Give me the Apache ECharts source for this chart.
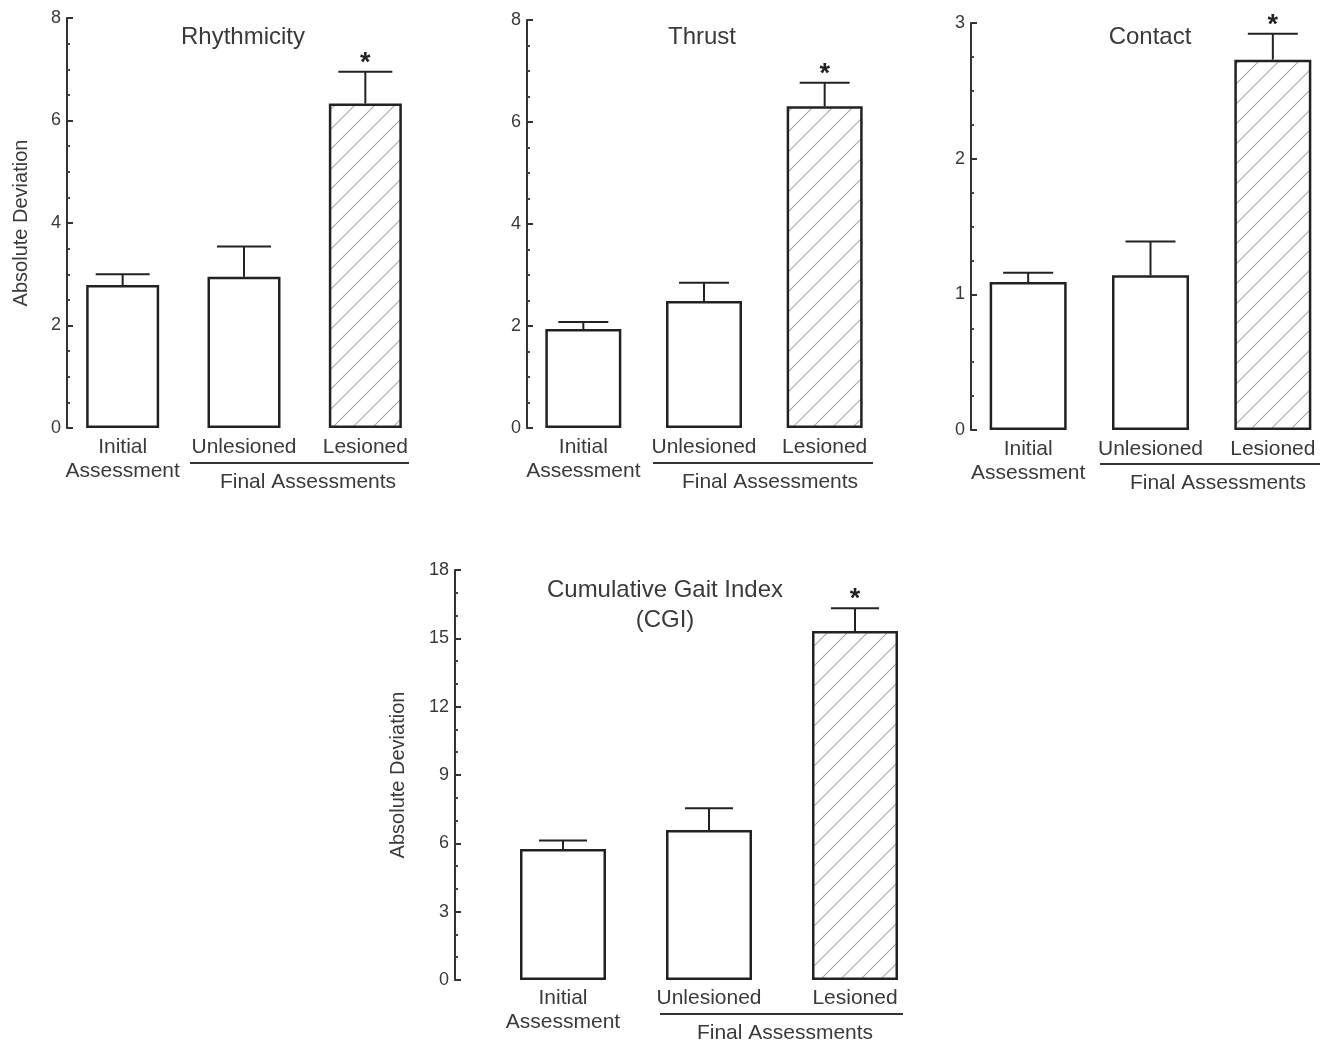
<!DOCTYPE html>
<html>
<head>
<meta charset="utf-8">
<script src="https://cdn.jsdelivr.net/npm/echarts@6/dist/echarts.min.js"></script>
<style>
html,body{margin:0;padding:0;background:#fff;}
#c{width:1334px;height:1045px;}
</style>
</head>
<body>
<div id="c"></div>
<script>
// ---------- data ----------
const categories = ['Initial\nAssessment', 'Unlesioned', 'Lesioned'];
const panelTitles = ['Rhythmicity', 'Thrust', 'Contact', 'Cumulative Gait Index\n(CGI)'];
const groupLabel = 'Final Assessments';
const yAxisName = 'Absolute Deviation';
const significance = ['', '', '*'];

const rhythmicityMean = [2.79, 2.95, 6.33];
const rhythmicityUpper = [3.00, 3.54, 6.95];
const thrustMean = [1.94, 2.49, 6.31];
const thrustUpper = [2.08, 2.85, 6.77];
const contactMean = [1.09, 1.14, 2.73];
const contactUpper = [1.16, 1.39, 2.92];
const cgiMean = [5.75, 6.59, 15.32];
const cgiUpper = [6.12, 7.54, 16.32];

const yMax = [8, 8, 3, 18];
const yInterval = [2, 2, 1, 3];
const yMinorSplit = [4, 4, 4, 3];

const means = [rhythmicityMean, thrustMean, contactMean, cgiMean];
const uppers = [rhythmicityUpper, thrustUpper, contactUpper, cgiUpper];

// ---------- layout / style ----------
const FONT = '"Liberation Sans", Arial, sans-serif';
const TXT = '#3a3a3a';
const grids = [
  {left: 62, top: 18, width: 364, height: 410, offset: -5, barW: 73, cap: 27},
  {left: 523, top: 20, width: 362, height: 408, offset: -4, barW: 76, cap: 25},
  {left: 967, top: 23, width: 369, height: 407, offset: -4, barW: 77, cap: 25},
  {left: 490, top: 570, width: 438, height: 410, offset: 35, barW: 86, cap: 24}
];
const showName = [true, false, false, true];
const nameGaps = [36, 0, 0, 47];

// hatch pattern
const hatch = document.createElement('canvas');
const HS = 20;
hatch.width = HS; hatch.height = HS;
(function(){
  const g = hatch.getContext('2d');
  g.fillStyle = '#fff'; g.fillRect(0,0,HS,HS);
  g.strokeStyle = '#a8a8a8'; g.lineWidth = 1.1;
  g.beginPath();
  g.moveTo(0, HS); g.lineTo(HS, 0);
  g.moveTo(-HS/2, HS/2); g.lineTo(HS/2, -HS/2);
  g.moveTo(HS/2, HS*1.5); g.lineTo(HS*1.5, HS/2);
  g.stroke();
})();

const option = {
  animation: false,
  backgroundColor: '#fff',
  grid: grids.map(g => ({left: g.left, top: g.top, width: g.width, height: g.height})),
  xAxis: grids.map((g, i) => ({
    type: 'category', gridIndex: i, data: categories,
    axisLine: {show: false}, axisTick: {show: false},
    axisLabel: {
      color: TXT, fontFamily: FONT, fontSize: 21, lineHeight: 24,
      margin: i === 3 ? 6 : 7, interval: 0
    }
  })),
  yAxis: grids.map((g, i) => ({
    type: 'value', gridIndex: i, min: 0, max: yMax[i], interval: yInterval[i],
    offset: g.offset,
    name: showName[i] ? yAxisName : '',
    nameLocation: 'middle', nameGap: nameGaps[i], nameRotate: 90,
    nameTextStyle: {color: TXT, fontFamily: FONT, fontSize: 20},
    axisLine: {show: true, lineStyle: {color: '#333', width: 2}},
    axisTick: {show: true, inside: true, length: 6, lineStyle: {color: '#333', width: 2}},
    minorTick: {show: true, splitNumber: yMinorSplit[i], length: 3, lineStyle: {color: '#444', width: 2}},
    splitLine: {show: false},
    axisLabel: {color: TXT, fontFamily: FONT, fontSize: 18, margin: 6}
  })),
  series: []
};

means.forEach((m, i) => {
  option.series.push({
    type: 'bar', xAxisIndex: i, yAxisIndex: i,
    barWidth: grids[i].barW,
    data: m.map((v, k) => ({
      value: v,
      itemStyle: {
        color: significance[k] ? {image: hatch, repeat: 'repeat'} : '#fff',
        borderColor: '#222', borderWidth: 2.5
      }
    })),
    z: 2
  });
  option.series.push({
    type: 'custom', xAxisIndex: i, yAxisIndex: i,
    data: m.map((v, k) => [k, v, uppers[i][k]]),
    z: 3,
    renderItem: function (params, api) {
      const k = api.value(0);
      const p0 = api.coord([k, api.value(1)]);
      const p1 = api.coord([k, api.value(2)]);
      const cw = grids[i].cap;
      const children = [
        {type: 'line', shape: {x1: p0[0], y1: p0[1], x2: p1[0], y2: p1[1]}, style: {stroke: '#222', lineWidth: 2}},
        {type: 'line', shape: {x1: p1[0] - cw, y1: p1[1], x2: p1[0] + cw, y2: p1[1]}, style: {stroke: '#222', lineWidth: 2}}
      ];
      if (significance[k]) {
        children.push({type: 'text', style: {
          text: significance[k], x: p1[0], y: p1[1] + 5,
          textAlign: 'center', textVerticalAlign: 'bottom',
          font: 'bold 27px ' + FONT, fill: '#222'
        }});
      }
      return {type: 'group', children: children};
    }
  });
});

// titles and group annotations
const titlePos = [[243, 37], [702, 37], [1150, 37], [665, 605]];
const groupLine = [[190, 409, 463], [653, 873, 463], [1100, 1320, 464], [660, 903, 1014]];
const groupText = [[308, 482], [770, 482], [1218, 483], [785, 1033]];
const graphic = [];
panelTitles.forEach((t, i) => {
  graphic.push({type: 'text', silent: true,
    x: titlePos[i][0], y: titlePos[i][1],
    style: {text: t, textAlign: 'center', textVerticalAlign: 'middle', font: '24px ' + FONT, fill: TXT, lineHeight: 30}
  });
  graphic.push({type: 'line', silent: true,
    shape: {x1: groupLine[i][0], y1: groupLine[i][2], x2: groupLine[i][1], y2: groupLine[i][2]},
    style: {stroke: '#333', lineWidth: 2}
  });
  graphic.push({type: 'text', silent: true,
    x: groupText[i][0], y: groupText[i][1],
    style: {text: groupLabel, textAlign: 'center', textVerticalAlign: 'middle', font: '21px ' + FONT, fill: TXT}
  });
});
option.graphic = graphic;

const chart = echarts.init(document.getElementById('c'), null, {renderer: 'canvas'});
chart.setOption(option);
</script>
</body>
</html>
